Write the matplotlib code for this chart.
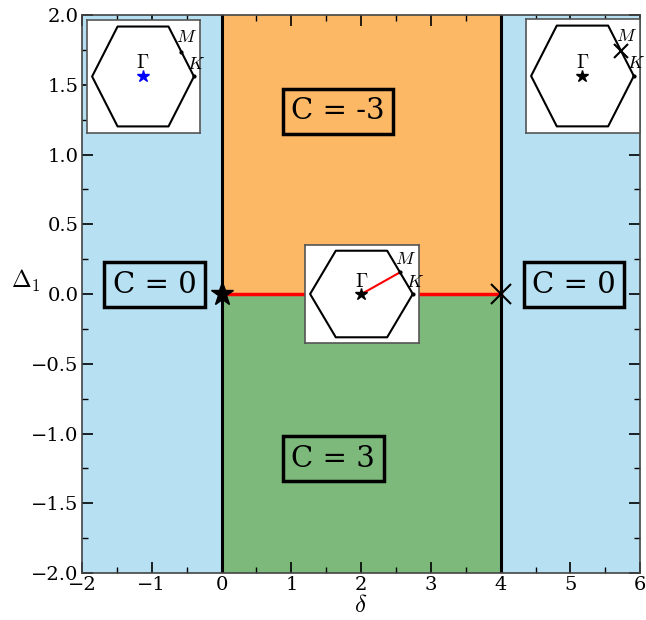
import numpy as np
import matplotlib
matplotlib.use("Agg")
import matplotlib.pyplot as plt

plt.rcParams['font.family'] = ['DejaVu Serif']
plt.rcParams['mathtext.fontset'] = 'cm'

# phase boundaries in delta and the regions between them
boundaries = [0, 4]
x_range = [-2, 6]
y_range = [-2, 2]
blue = '#b7e0f2'
orange = '#fdb866'
green = '#7db97b'

# Chern number labels: (text, x, y)
chern_labels = [("C = -3", 1.0, 1.31),
                ("C = 3", 1.0, -1.18),
                ("C = 0", -1.56, 0.065),
                ("C = 0", 4.45, 0.065)]

# hexagonal Brillouin zone, high symmetry points
hex_angles = np.arange(0, 361, 60)
gamma_pt = (0.0, 0.0)
k_pt = (1.0, 0.0)
m_pt = (0.75, 0.433)


def brillouin_inset(fig, rect, marker):
    ax = fig.add_axes(rect)
    hx = np.cos(np.deg2rad(hex_angles))
    hy = np.sin(np.deg2rad(hex_angles))
    ax.plot(hx, hy, color='k', lw=1.5)
    ax.plot(*k_pt, 'k.', ms=4)
    if marker == 'gamma':
        ax.plot(*m_pt, 'k.', ms=4)
        ax.plot(*gamma_pt, '*', color='blue', ms=9)
    elif marker == 'm':
        ax.plot(*m_pt, 'kx', ms=10, mew=1.5)
        ax.plot(*gamma_pt, 'k*', ms=9)
    else:
        ax.plot([gamma_pt[0], m_pt[0]], [gamma_pt[1], m_pt[1]], color='red', lw=1.5)
        ax.plot(*m_pt, 'k.', ms=4)
        ax.plot(*gamma_pt, 'k*', ms=9)
    ax.text(0.0, 0.07, r'$\Gamma$', ha='center', va='bottom', fontsize=14)
    ax.text(0.65, 0.53, r'$M$', ha='left', va='bottom', fontsize=13)
    ax.text(0.86, 0.06, r'$K$', ha='left', va='bottom', fontsize=13)
    ax.set_xlim(-1.1, 1.12)
    ax.set_ylim(-0.98, 0.98)
    ax.set_xticks([])
    ax.set_yticks([])
    for s in ax.spines.values():
        s.set_color('#555555')
        s.set_linewidth(1.2)
    return ax


fig = plt.figure(figsize=(6.46, 6.2), dpi=100)
ax = fig.add_axes([0.127, 0.0758, 0.864, 0.9])

ax.fill_between([x_range[0], boundaries[0]], y_range[0], y_range[1], color=blue, lw=0)
ax.fill_between([boundaries[1], x_range[1]], y_range[0], y_range[1], color=blue, lw=0)
ax.fill_between(boundaries, 0, y_range[1], color=orange, lw=0)
ax.fill_between(boundaries, y_range[0], 0, color=green, lw=0)

for b in boundaries:
    ax.axvline(b, color='k', lw=2.2)
ax.plot(boundaries, [0, 0], color='red', lw=2.5)
ax.plot(boundaries[0], 0, 'k*', ms=17, clip_on=False, zorder=5)
ax.plot(boundaries[1], 0, 'kx', ms=14, mew=1.5, clip_on=False, zorder=5)

for txt, x, y in chern_labels:
    ax.text(x, y, txt, ha='left', va='center', fontsize=21,
            bbox=dict(facecolor='none', edgecolor='k', lw=2.5, pad=6))

ax.set_xlim(x_range)
ax.set_ylim(y_range)
ax.set_xticks(np.arange(-2, 7, 1))
ax.set_yticks(np.arange(-2, 2.01, 0.5))
ax.set_xticks(np.arange(-2, 6.01, 0.5), minor=True)
ax.set_yticks(np.arange(-2, 2.01, 0.25), minor=True)
ax.tick_params(which='both', direction='in', top=True, right=True, labelsize=14, pad=2.5)
ax.tick_params(which='major', length=8, width=1.2)
ax.tick_params(which='minor', length=4, width=1)
for s in ax.spines.values():
    s.set_color('#444444')
    s.set_linewidth(1.2)
ax.set_xlabel(r'$\delta$', fontsize=18, labelpad=0)
ax.set_ylabel(r'$\Delta_1$', fontsize=17, rotation=0, labelpad=4)
ax.yaxis.set_label_coords(-0.1, 0.5)

brillouin_inset(fig, [0.1347, 0.7855, 0.175, 0.1823], 'gamma')
brillouin_inset(fig, [0.8142, 0.7855, 0.1765, 0.1839], 'm')
brillouin_inset(fig, [0.4721, 0.4468, 0.1765, 0.158], 'path')

fig.savefig('out.png', dpi=100)
